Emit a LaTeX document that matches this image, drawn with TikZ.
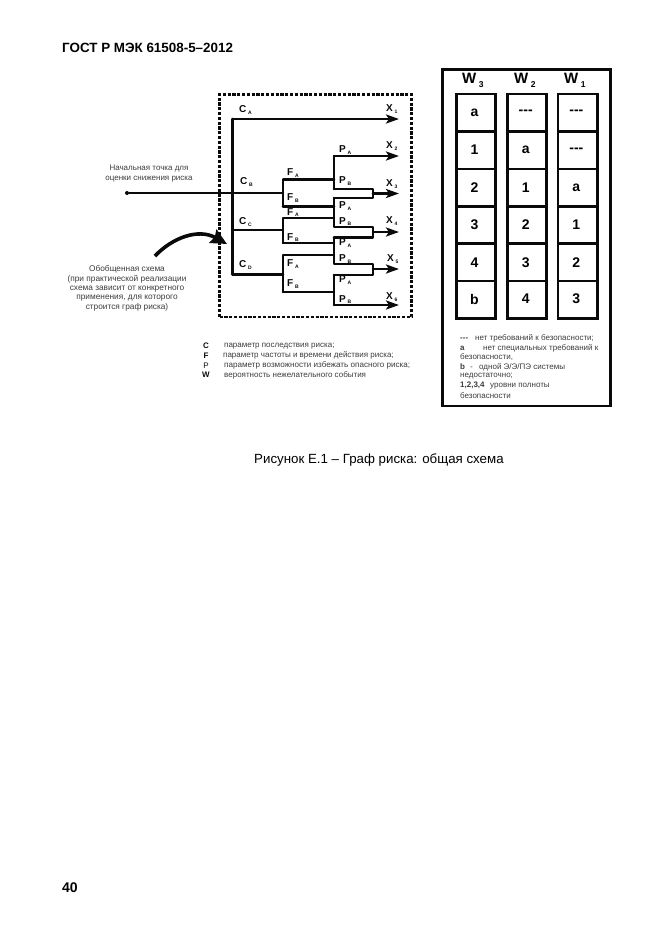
\documentclass[tikz,border=0pt]{standalone}
\usepackage{fontspec}
\setmainfont{Liberation Sans}
\usetikzlibrary{arrows.meta,positioning}
\definecolor{lineblack}{RGB}{10,10,10}
\definecolor{textgray}{RGB}{60,60,60}
\newcommand{\lab}[2]{#1\kern1.8pt\raisebox{-1.5pt}{\fontsize{5}{5}\selectfont #2}}
\begin{document}
\begin{tikzpicture}[
  x=1pt, y=-1pt,
  lbl/.style={anchor=base west, inner sep=0pt, font=\fontsize{10}{10}\bfseries, text=lineblack},
  note/.style={inner sep=0pt, align=center, text=textgray},
  legend/.style={anchor=west, inner sep=0pt, font=\fontsize{8}{9}\selectfont, text=textgray},
  legkey/.style={anchor=center, inner sep=0pt, font=\fontsize{8}{9}\bfseries, text=lineblack},
  wire/.style={draw=lineblack, line width=2.6pt, line cap=round, line join=round},
  arr/.style={wire, -{Stealth[length=13pt, width=9pt, inset=3pt]}},
  frame/.style={draw=lineblack, line width=2.3pt, dash pattern=on 3.2pt off 1.6pt, inner sep=0pt, outer sep=0pt},
  cell/.style={draw=lineblack, line width=2.6pt, inner sep=0pt, outer sep=0pt, minimum height=37.4pt, font=\fontsize{14}{14}\bfseries, execute at begin node={\kern-3pt}},
  wlab/.style={anchor=base west, inner sep=0pt, font=\fontsize{15}{16}\bfseries}
]
\useasboundingbox (0,0) rectangle (662,935);

\node[anchor=west, inner sep=0pt, font=\fontsize{13.4}{14}\bfseries] (title) at (62,48) {ГОСТ Р МЭК 61508-5–2012};
\node[anchor=west, inner sep=0pt, font=\fontsize{13.3}{14}\selectfont] (caption) at (254,460) {Рисунок Е.1 – Граф риска: общая схема};
\node[anchor=west, inner sep=0pt, font=\fontsize{14}{15}\bfseries] (pageno) at (62,888) {40};

% dashed block
\node[frame, minimum width=192pt, minimum height=222.5pt, anchor=north west] (block) at (219.5,94.5) {};

% junctions
\coordinate (top) at (232.5,119);
\coordinate (x1) at (399,119);
\coordinate (bot) at (232.5,274.5);
\coordinate (cc) at (232.5,230);
\coordinate (fb) at (283,193);
\coordinate (fc) at (283,230);
\coordinate (fd) at (283,274.5);
\coordinate (fa1) at (283,179.5);
\coordinate (fb1) at (283,206.5);
\coordinate (fa2) at (283,218);
\coordinate (fb2) at (283,243);
\coordinate (fa3) at (283,255);
\coordinate (fb3) at (283,292);
\coordinate (p1) at (334,179.5);
\coordinate (p2) at (334,206.5);
\coordinate (p3) at (334,218);
\coordinate (p4) at (334,243);
\coordinate (p5) at (334,255);
\coordinate (p6) at (334,292);
\coordinate (pa1) at (334,156);
\coordinate (x2) at (399,156);
\coordinate (pb1) at (334,189);
\coordinate (m1t) at (373,189);
\coordinate (m1b) at (373,198);
\coordinate (pa2) at (334,198);
\coordinate (pb2) at (334,227);
\coordinate (m2t) at (373,227);
\coordinate (m2b) at (373,237.5);
\coordinate (pa3) at (334,237.5);
\coordinate (pb3) at (334,264);
\coordinate (m3t) at (373,264);
\coordinate (m3b) at (373,275);
\coordinate (pa4) at (334,275);
\coordinate (pb4) at (334,305);
\coordinate (x6) at (399,305);
\coordinate (m1) at (373,193.5);
\coordinate (x3) at (399,193.5);
\coordinate (m2) at (373,232);
\coordinate (x4) at (399,232);
\coordinate (m3) at (373,269);
\coordinate (x5) at (399,269);

% entry point
\node[circle, fill=lineblack, inner sep=0pt, minimum size=4pt] (entry) at (127,193) {};
\node[note, anchor=north, font=\fontsize{8}{10}\selectfont] (entrytext) at (149,165) {Начальная точка для\\оценки снижения риска};
\draw[wire, line width=2.2pt] (entry) -- (fb);

% branches
\draw[wire] (bot) -- (top);
\draw[arr] (top) -- (x1);
\draw[wire] (cc) -- (fc);
\draw[wire] (bot) -- (fd);
\draw[wire] (fb1) -- (fa1) -- (p1);
\draw[wire] (fb1) -- (p2);
\draw[wire] (fb2) -- (fa2) -- (p3);
\draw[wire] (fb2) -- (p4);
\draw[wire] (fb3) -- (fa3) -- (p5);
\draw[wire] (fb3) -- (p6);
\draw[wire] (pb1) -- (pa1);
\draw[arr] (pa1) -- (x2);
\draw[wire] (pa2) -- (m1b) -- (m1t) -- (pb1);
\draw[wire] (pa2) -- (pb2) -- (m2t) -- (m2b) -- (pa3);
\draw[wire] (pa3) -- (pb3) -- (m3t) -- (m3b) -- (pa4);
\draw[wire] (pa4) -- (pb4);
\draw[arr] (pb4) -- (x6);
\draw[arr] (m1) -- (x3);
\draw[arr] (m2) -- (x4);
\draw[arr] (m3) -- (x5);

% labels
\node[lbl] (ca) at (239,112.5) {\lab{C}{A}};
\node[lbl] (cb) at (240,184.5) {\lab{C}{B}};
\node[lbl] (ccl) at (239,224.5) {\lab{C}{C}};
\node[lbl] (cd) at (239,267.5) {\lab{C}{D}};
\node[lbl] (fa1l) at (287,175.5) {\lab{F}{A}};
\node[lbl] (fb1l) at (287,200.5) {\lab{F}{B}};
\node[lbl] (fa2l) at (287,215) {\lab{F}{A}};
\node[lbl] (fb2l) at (287,240) {\lab{F}{B}};
\node[lbl] (fa3l) at (287,266.5) {\lab{F}{A}};
\node[lbl] (fb3l) at (287,286.5) {\lab{F}{B}};
\node[lbl] (pa1l) at (339,152.5) {\lab{P}{A}};
\node[lbl] (pb1l) at (339,183.5) {\lab{P}{B}};
\node[lbl] (pa2l) at (339,208.5) {\lab{P}{A}};
\node[lbl] (pb2l) at (339,224) {\lab{P}{B}};
\node[lbl] (pa3l) at (339,245.5) {\lab{P}{A}};
\node[lbl] (pb3l) at (339,261.5) {\lab{P}{B}};
\node[lbl] (pa4l) at (339,282.5) {\lab{P}{A}};
\node[lbl] (pb4l) at (339,302) {\lab{P}{B}};
\node[lbl] (x1l) at (386,111.5) {\lab{X}{1}};
\node[lbl] (x2l) at (386,148.5) {\lab{X}{2}};
\node[lbl] (x3l) at (386,186.5) {\lab{X}{3}};
\node[lbl] (x4l) at (386,223.5) {\lab{X}{4}};
\node[lbl] (x5l) at (387,261.5) {\lab{X}{5}};
\node[lbl] (x6l) at (386,299.5) {\lab{X}{6}};

% generic scheme
\coordinate (gentail) at (155,256);
\coordinate (genhead) at (227,244);
\node[note, anchor=north, font=\fontsize{8.3}{9.4}\selectfont] (gentext) at (127,265.5) {Обобщенная схема\\(при практической реализации\\схема зависит от конкретного\\применения, для которого\\строится граф риска)};
\draw[wire, line width=3.6pt, line cap=butt, -{Stealth[length=16pt, width=15pt, inset=2pt]}] (gentail) .. controls (172,238) and (198,228) .. (genhead);

% legend
\node[legkey] (kc) at (206,346) {C};
\node[legend] (tc) at (224,346) {параметр последствия риска;};
\node[legkey] (kf) at (206,355.5) {F};
\node[legend] (tf) at (223,355.5) {параметр частоты и времени действия риска;};
\node[legkey, font=\fontsize{8}{9}\selectfont] (kp) at (206,365.5) {P};
\node[legend, font=\fontsize{8.1}{9}\selectfont] (tp) at (224,365.5) {параметр возможности избежать опасного риска;};
\node[legkey] (kw) at (206,375) {W};
\node[legend] (tw) at (224,375) {вероятность нежелательного события};

% table
\node[draw=lineblack, line width=2.6pt, inner sep=0pt, outer sep=0pt, minimum width=168pt, minimum height=336.5pt, anchor=north west] (tbl) at (442.5,69.5) {};
\node[wlab] (w3) at (462,83) {W\raisebox{-4.5pt}{\,\fontsize{8.5}{9}\selectfont 3}};
\node[wlab] (w2) at (514,83) {W\raisebox{-4.5pt}{\,\fontsize{8.5}{9}\selectfont 2}};
\node[wlab] (w1) at (564,83) {W\raisebox{-4.5pt}{\,\fontsize{8.5}{9}\selectfont 1}};

\node[cell, minimum width=38.5pt, anchor=north west] (a1) at (456.7,94) {a};
\node[cell, minimum width=38.5pt, below=0pt of a1] (a2) {1};
\node[cell, minimum width=38.5pt, below=0pt of a2] (a3) {2};
\node[cell, minimum width=38.5pt, below=0pt of a3] (a4) {3};
\node[cell, minimum width=38.5pt, below=0pt of a4] (a5) {4};
\node[cell, minimum width=38.5pt, below=0pt of a5] (a6) {b};

\node[cell, minimum width=39pt, anchor=north west] (b1) at (507.7,94) {{-}{-}{-}};
\node[cell, minimum width=39pt, below=0pt of b1] (b2) {a};
\node[cell, minimum width=39pt, below=0pt of b2] (b3) {1};
\node[cell, minimum width=39pt, below=0pt of b3] (b4) {2};
\node[cell, minimum width=39pt, below=0pt of b4] (b5) {3};
\node[cell, minimum width=39pt, below=0pt of b5] (b6) {\raisebox{2.5pt}{4}};

\node[cell, minimum width=39.7pt, anchor=north west] (c1) at (558,94) {{-}{-}{-}};
\node[cell, minimum width=39.7pt, below=0pt of c1] (c2) {{-}{-}{-}};
\node[cell, minimum width=39.7pt, below=0pt of c2] (c3) {a};
\node[cell, minimum width=39.7pt, below=0pt of c3] (c4) {1};
\node[cell, minimum width=39.7pt, below=0pt of c4] (c5) {2};
\node[cell, minimum width=39.7pt, below=0pt of c5] (c6) {\raisebox{2.5pt}{3}};

% table notes
\node[legend] (n1) at (460,338.5) {\makebox[15pt][l]{\textbf{{-}{-}{-}}}нет требований к безопасности;};
\node[legend] (n2) at (460,348) {\makebox[23pt][l]{\textbf{a}}нет специальных требований к};
\node[legend] (n3) at (460,357.5) {безопасности,};
\node[legend] (n4) at (460,367) {\makebox[10pt][l]{\textbf{b}}\makebox[9pt][l]{-}одной Э/Э/ПЭ системы};
\node[legend] (n5) at (460,376.5) {недостаточно;};
\node[legend] (n6) at (460,386) {\makebox[30pt][l]{\textbf{1,2,3,4}}уровни полноты};
\node[legend] (n7) at (460,395.5) {безопасности};
\end{tikzpicture}
\end{document}
